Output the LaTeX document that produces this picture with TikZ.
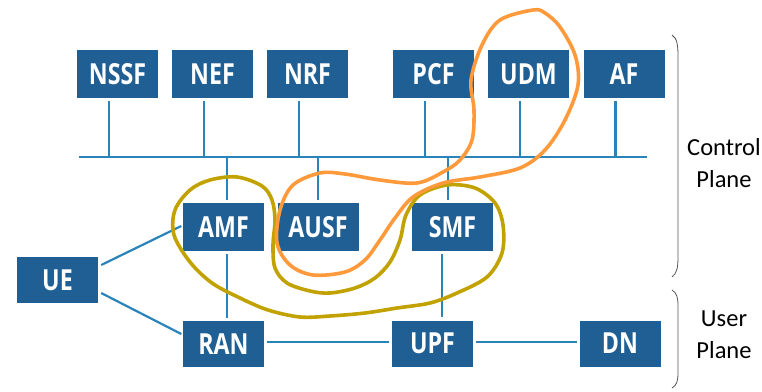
\documentclass[tikz,border=0pt]{standalone}
\usepackage{fontspec}
\setmainfont{Open Sans}
\newfontfamily\nffont{Open Sans}[FakeStretch=0.8,BoldFeatures={FakeStretch=0.8}]
\newfontfamily\labelfont{Carlito}
\usetikzlibrary{calc}
\definecolor{boxblue}{HTML}{1F5F94}
\definecolor{lineblue}{HTML}{2A84BA}
\definecolor{markorange}{HTML}{FF9A3C}
\definecolor{markolive}{HTML}{C2A200}
\definecolor{bracegray}{HTML}{555555}
\begin{document}
\begin{tikzpicture}[x=1pt,y=-1pt,
  nf/.style={fill=boxblue, text=white, minimum width=81pt, minimum height=48pt,
    inner sep=0pt, font=\nffont\fontsize{29}{29}\selectfont\bfseries},
  link/.style={draw=lineblue, line width=2.2pt},
  bracket/.style={draw=bracegray, line width=0.8pt},
  planelabel/.style={font=\labelfont\fontsize{24.5}{32}\selectfont, align=center},
  scribble/.style={line width=3.6pt, line cap=round, line join=round}]
\useasboundingbox (0,0) rectangle (762,391);

% network functions
\node[nf] (nssf) at (117.5,74) {NSSF};
\node[nf] (nef)  at (212.5,74) {NEF};
\node[nf] (nrf)  at (307.5,74) {NRF};
\node[nf] (pcf)  at (433.5,74) {PCF};
\node[nf] (udm)  at (528.5,74) {UDM};
\node[nf] (af)   at (624,74)   {AF};
\node[nf] (amf)  at (223.5,227) {AMF};
\node[nf] (ausf) at (318,227)   {AUSF};
\node[nf] (smf)  at (452.5,227) {SMF};
\node[nf, minimum height=46pt] (ue) at (57.5,280) {UE};
\node[nf, minimum height=46pt] (ran) at (223.5,344) {RAN};
\node[nf, minimum height=46pt] (upf) at (432.5,343.5) {UPF};
\node[nf, minimum height=46pt] (dn)  at (620,343.5) {DN};

% service bus
\coordinate (busL) at (79,157);
\coordinate (busR) at (647,157);
\draw[link] (busL) -- (busR);

% control plane attachments
\foreach \n in {nssf,nef,nrf,pcf,udm,af}
  \draw[link] ([shift={(-8.5,3)}]\n.south) -- ([xshift=-8.5pt]\n.south |- busL);
\draw[link] ([xshift=3.5pt]amf.north |- busL) -- ([shift={(3.5,-3)}]amf.north);
\draw[link] (ausf.north |- busL) -- ([yshift=3pt]ausf.north);
\draw[link] ([xshift=-4.5pt]smf.north |- busL) -- ([shift={(-4.5,-3)}]smf.north);

% access and user plane links
\draw[link] ([shift={(3,-15)}]ue.east) -- ([shift={(-1.5,-1)}]amf.west);
\draw[link] ([shift={(3,13)}]ue.east) -- ([shift={(-1.5,-10)}]ran.west);
\draw[link] ([shift={(3.5,3)}]amf.south) -- ([shift={(3.5,-3)}]ran.north);
\draw[link] ([shift={(-10.5,3)}]smf.south) -- ([shift={(-10.5,-3)}]smf.south |- upf.north);
\draw[link] ([shift={(3,-2)}]ran.east) -- ([shift={(-3,-1.5)}]upf.west);
\draw[link] ([shift={(3,-1.5)}]upf.east) -- ([shift={(-2,-1.5)}]dn.west);

% plane brackets
\draw[bracket] (672,35) .. controls (677,38) and (678,45) .. (678,56)
  -- (678,256) .. controls (678,268) and (677,273) .. (672,277);
\draw[bracket] (672,290) .. controls (677,293) and (678,298) .. (678,306)
  -- (678,372) .. controls (678,381) and (677,385) .. (672,388);
\node[planelabel] (cp) at (724,163) {Control\\Plane};
\node[planelabel] (up) at (724,335) {User\\Plane};

% hand-drawn highlight around AMF, AUSF and SMF
\draw[scribble, markolive] plot[smooth cycle, tension=0.55] coordinates {
  (237,177) (262,186) (272,200) (275,220) (273,245) (275,268) (287,283)
  (310,291) (330,293) (355,288) (375,278) (390,262) (400,240) (406,215)
  (420,195) (447,185) (475,188) (495,203) (503,225) (502,253) (487,277)
  (457,293) (430,303) (397,308) (365,313) (330,316) (300,317) (268,310)
  (240,298) (212,283) (190,262) (174,235) (175,210) (190,190) (210,180)};

% hand-drawn highlight linking UDM and AUSF
\draw[scribble, markorange] plot[smooth cycle, tension=0.55] coordinates {
  (533,10) (500,20) (482,45) (471,80) (474,110) (472,140) (460,160)
  (443,172) (417,183) (380,180) (345,174) (320,173) (293,185) (280,210)
  (277,243) (290,265) (313,275) (345,272) (365,260) (380,240) (395,218)
  (413,197) (443,183) (480,177) (520,168) (545,150) (565,120) (578,85)
  (575,55) (560,27) (545,13)};
\end{tikzpicture}
\end{document}
